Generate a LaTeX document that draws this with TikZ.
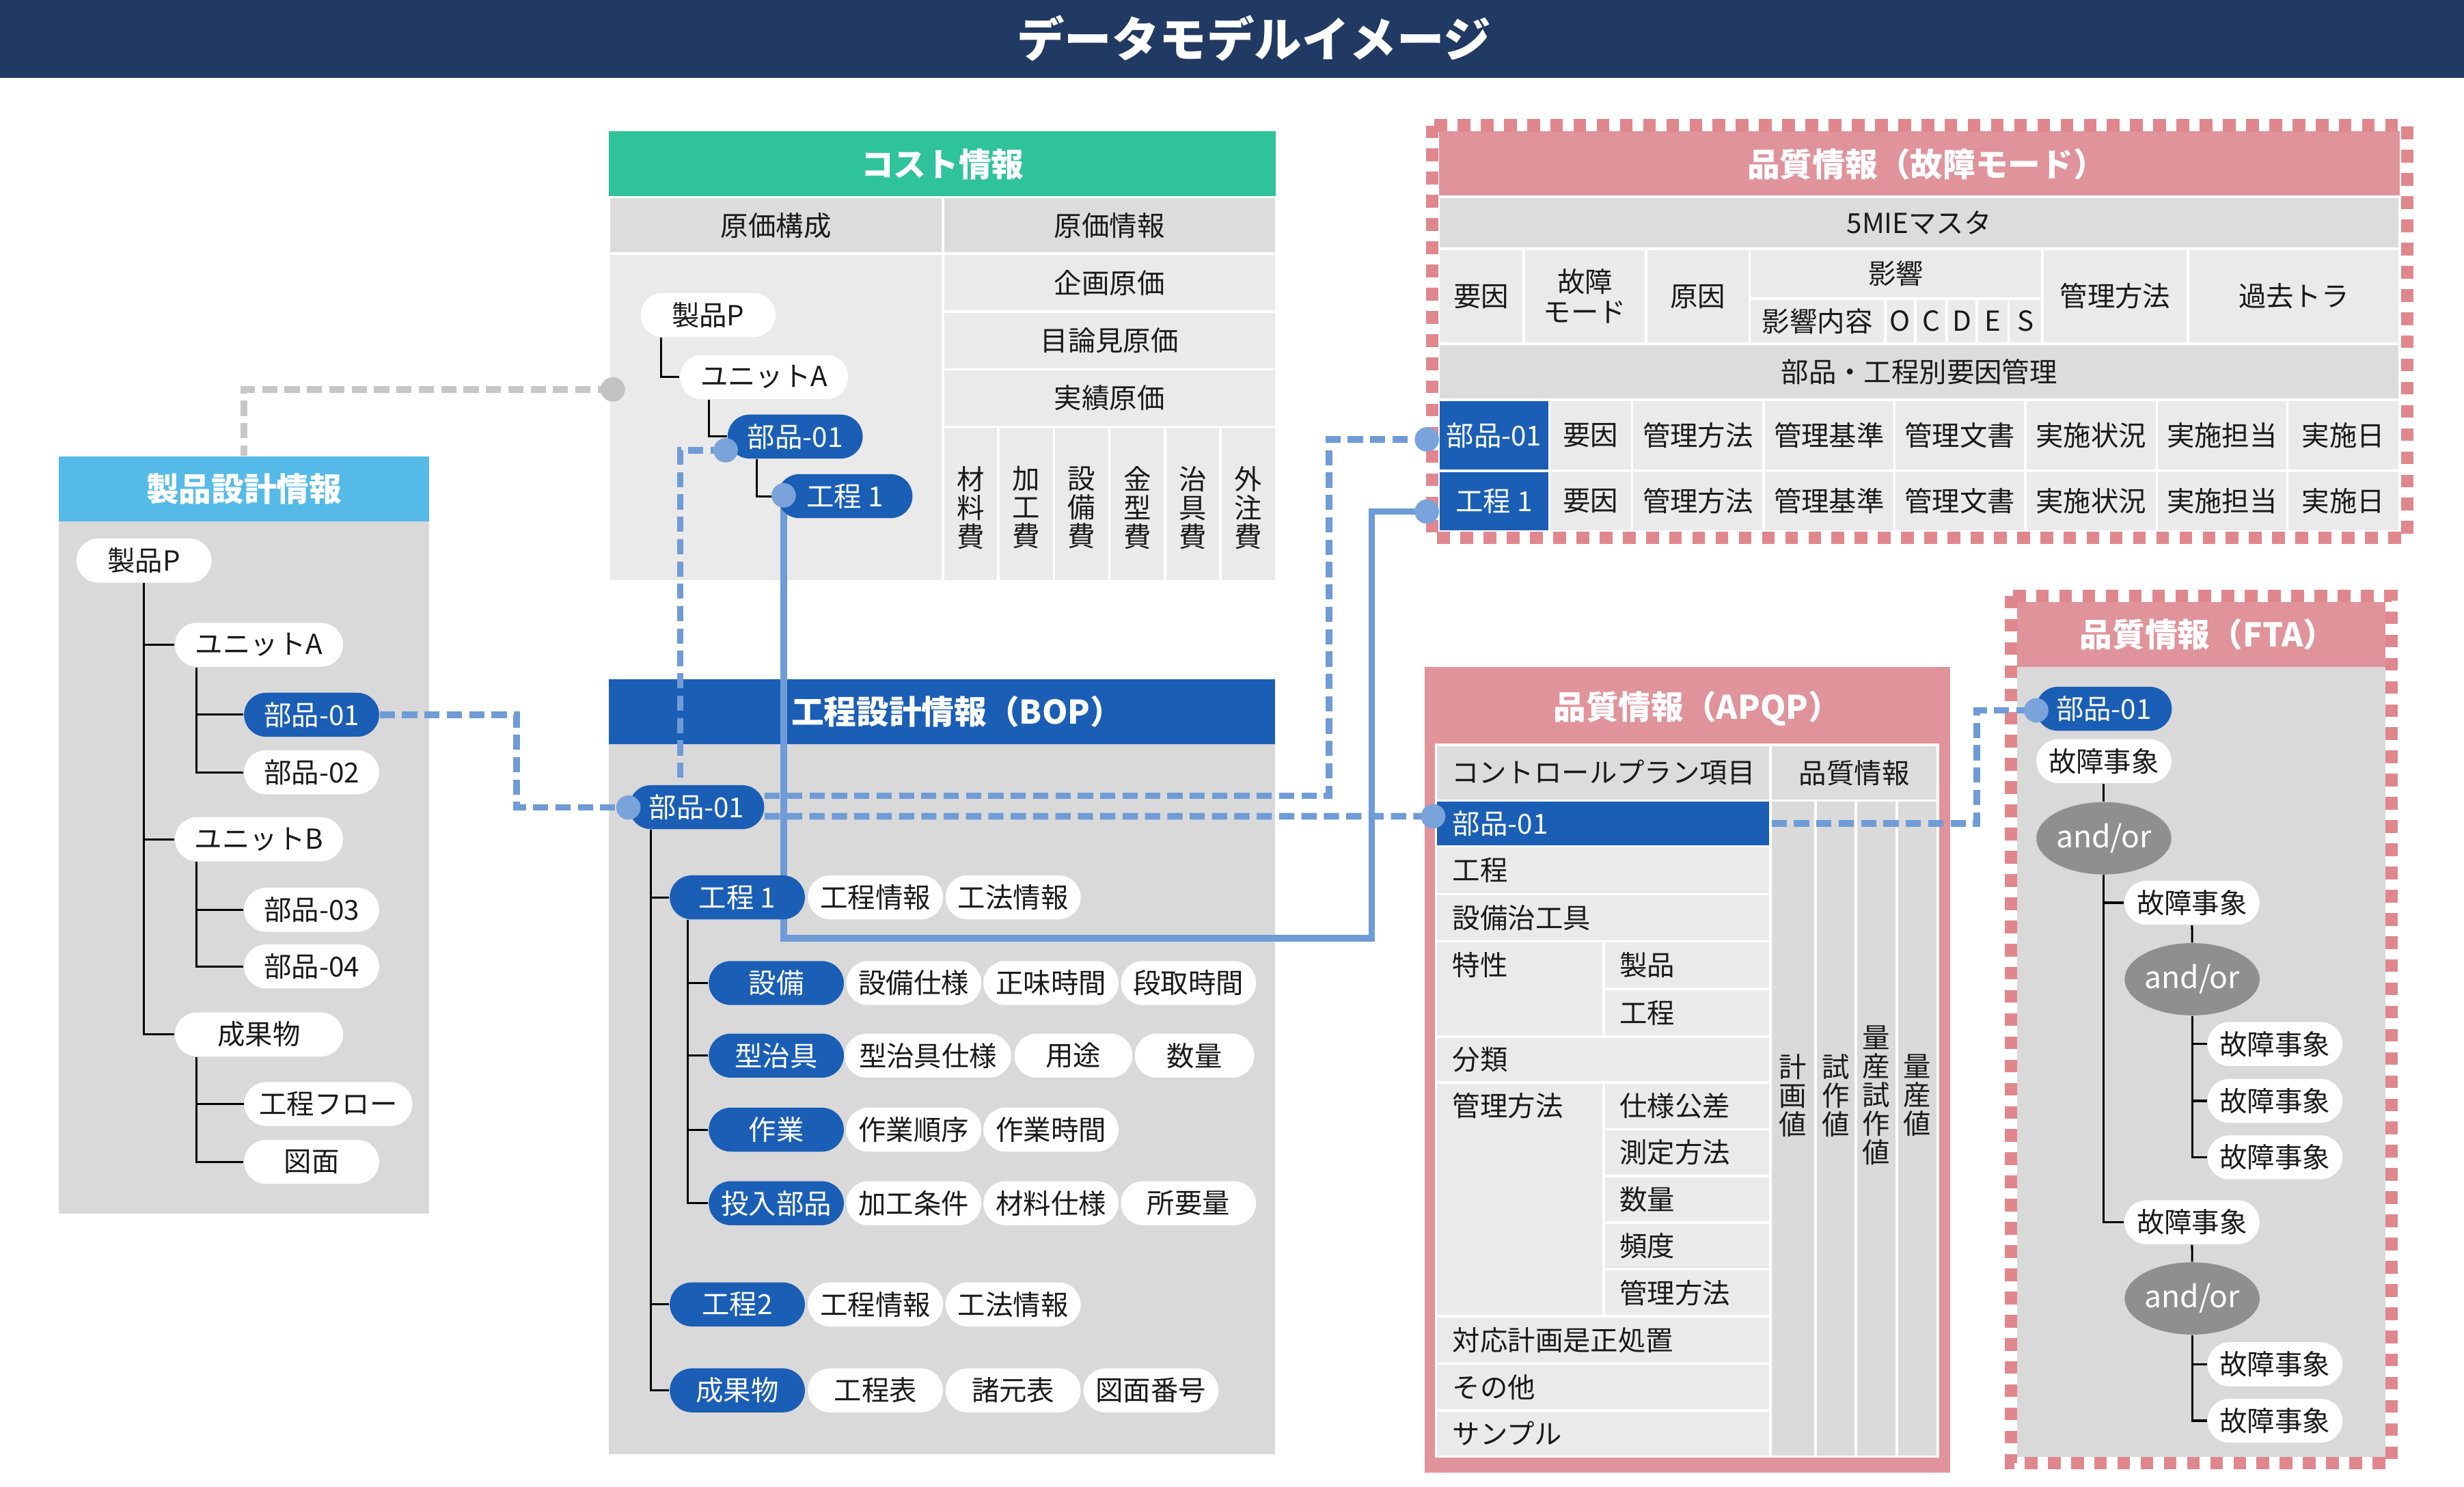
\documentclass[tikz,border=0pt]{standalone}
\usepackage{fontspec}
\setmainfont{Noto Sans CJK JP}
\usetikzlibrary{calc,shapes.geometric}
\definecolor{navy}{HTML}{213A63}
\definecolor{skyB}{HTML}{55BAE8}
\definecolor{greenH}{HTML}{2FC39B}
\definecolor{bopB}{HTML}{1B5EB5}
\definecolor{pinkH}{HTML}{E0939A}
\definecolor{pinkD}{HTML}{E0878E}
\definecolor{bodyG}{HTML}{D9D9D9}
\definecolor{cellG}{HTML}{EAEAEA}
\definecolor{hdrG}{HTML}{DCDCDC}
\definecolor{colG}{HTML}{DADADA}
\definecolor{lnB}{HTML}{6F9BD7}
\definecolor{dotB}{HTML}{7BA3DB}
\definecolor{lnG}{HTML}{C6C6C6}
\definecolor{dotG}{HTML}{C2C2C2}
\definecolor{gateG}{HTML}{8F8F8F}
\definecolor{txt}{HTML}{1A1A1A}
\newcommand{\fs}{\fontsize{10}{11}\selectfont}
\newcommand{\fv}{\fontsize{10}{10.4}\selectfont}
\newcommand{\fh}{\fontsize{11.8}{13}\selectfont\bfseries}
\newcommand{\bx}[7]{\node[#6,minimum width={(#4-#2)*0.02cm},minimum height={(#5-#3)*0.02cm}] (#1) at ({(#2+#4)/2},{(#3+#5)/2}) {#7};}
\pgfdeclarelayer{bg}
\pgfdeclarelayer{mid}
\pgfsetlayers{bg,mid,main}
\tikzset{
  hbox/.style={inner sep=0pt, font=\fh, text=white},
  cellnode/.style={inner sep=0pt, draw=white, line width=0.9pt, font=\fs, align=center, text=txt},
  pill/.style={rounded corners=0.28cm, minimum height=0.56cm, inner sep=0pt, font=\fs, minimum width=1.72cm},
  wp/.style={pill, fill=white, text=txt},
  bp/.style={pill, fill=bopB, text=white},
  wide/.style={minimum width=2.14cm},
  dot/.style={circle, fill=dotB, minimum size=0.31cm, inner sep=0pt},
  gate/.style={ellipse, fill=gateG, text=white, minimum width=1.4cm, minimum height=0.92cm, inner sep=0pt, font=\fontsize{11}{12}\selectfont},
  dsh/.style={draw=lnB, line width=2.4pt, dash pattern=on 5.5pt off 2.6pt},
  gdsh/.style={draw=lnG, line width=2.4pt, dash pattern=on 5.5pt off 2.6pt},
  sol/.style={draw=lnB, line width=2.3pt},
  tree/.style={draw=black, line width=0.75pt},
  pborder/.style={draw=pinkD, line width=4.5pt, dash pattern=on 4.6pt off 3.8pt},
  lab/.style={anchor=west, inner sep=0pt, font=\fs, text=txt},
  vtxt/.style={inner sep=0pt, font=\fv, align=center, text=txt}
}
\begin{document}
\begin{tikzpicture}[x=0.02cm,y=-0.02cm]
\useasboundingbox (0,0) rectangle (1568,946);

\begin{pgfonlayer}{bg}
% title
\bx{ttlB}{0}{0}{1568}{49.5}{inner sep=0pt,fill=navy}{}
\node[inner sep=0pt,text=white,font=\fontsize{17.2}{20}\selectfont\bfseries] (ttl) at (798,24.5) {データモデルイメージ};

% product design
\bx{pdH}{37.3}{290.3}{273.2}{331.6}{hbox,fill=skyB}{製品設計情報}
\bx{pdB}{37.3}{331.6}{273.2}{772.2}{inner sep=0pt,fill=bodyG}{}

% cost
\bx{coH}{387.6}{83.7}{812}{125.5}{hbox,fill=greenH}{コスト情報}
\bx{coS1}{387.6}{125.5}{600}{161.4}{cellnode,fill=hdrG}{原価構成}
\bx{coS2}{600}{125.5}{812}{161.4}{cellnode,fill=hdrG}{原価情報}
\bx{coL}{387.6}{161.4}{600}{370}{cellnode,fill=cellG}{}
\bx{coR1}{600}{161.4}{812}{198.4}{cellnode,fill=cellG}{企画原価}
\bx{coR2}{600}{198.4}{812}{235}{cellnode,fill=cellG}{目論見原価}
\bx{coR3}{600}{235}{812}{271.5}{cellnode,fill=cellG}{実績原価}
\bx{coC1}{600}{271.5}{635.3}{370}{cellnode,fill=cellG}{}
\bx{coC2}{635.3}{271.5}{670.7}{370}{cellnode,fill=cellG}{}
\bx{coC3}{670.7}{271.5}{706}{370}{cellnode,fill=cellG}{}
\bx{coC4}{706}{271.5}{741.3}{370}{cellnode,fill=cellG}{}
\bx{coC5}{741.3}{271.5}{776.7}{370}{cellnode,fill=cellG}{}
\bx{coC6}{776.7}{271.5}{812}{370}{cellnode,fill=cellG}{}
\node[vtxt] (coT1) at (617.7,323) {材\\料\\費};
\node[vtxt] (coT2) at (653,323) {加\\工\\費};
\node[vtxt] (coT3) at (688.4,323) {設\\備\\費};
\node[vtxt] (coT4) at (723.7,323) {金\\型\\費};
\node[vtxt] (coT5) at (759,323) {治\\具\\費};
\node[vtxt] (coT6) at (794.4,323) {外\\注\\費};

% BOP
\bx{boH}{387.5}{432}{811.2}{473.5}{inner sep=0pt,fill=bopB}{}
\node[hbox] (boHt) at (609,452.7) {工程設計情報（BOP）};
\bx{boB}{387.5}{473.5}{811.2}{925.1}{inner sep=0pt,fill=bodyG}{}

% failure mode table
\bx{fmH}{915.6}{83.7}{1527}{125.3}{inner sep=0pt,fill=pinkH}{}
\node[hbox] (fmHt) at (1226,104.5) {品質情報（故障モード）};
\bx{fm5}{915.6}{125.3}{1527}{158.4}{cellnode,fill=hdrG}{5MIEマスタ}
\bx{fmA}{915.6}{158.4}{969.7}{218.7}{cellnode,fill=cellG}{要因}
\bx{fmB}{969.7}{158.4}{1047.4}{218.7}{cellnode,fill=cellG}{故障\\モード}
\bx{fmC}{1047.4}{158.4}{1113.4}{218.7}{cellnode,fill=cellG}{原因}
\bx{fmD}{1113.4}{158.4}{1299.6}{190}{cellnode,fill=cellG}{影響}
\bx{fmD1}{1113.4}{190}{1199.7}{218.7}{cellnode,fill=cellG}{影響内容}
\bx{fmO}{1199.7}{190}{1218.7}{218.7}{cellnode,fill=cellG}{O}
\bx{fmCc}{1218.7}{190}{1238.9}{218.7}{cellnode,fill=cellG}{C}
\bx{fmDd}{1238.9}{190}{1257.9}{218.7}{cellnode,fill=cellG}{D}
\bx{fmE}{1257.9}{190}{1278.2}{218.7}{cellnode,fill=cellG}{E}
\bx{fmS}{1278.2}{190}{1299.6}{218.7}{cellnode,fill=cellG}{S}
\bx{fmM}{1299.6}{158.4}{1392.4}{218.7}{cellnode,fill=cellG}{管理方法}
\bx{fmK}{1392.4}{158.4}{1527}{218.7}{cellnode,fill=cellG}{過去トラ}
\bx{fmP}{915.6}{218.7}{1527}{254.5}{cellnode,fill=hdrG}{部品・工程別要因管理}
% row 1
\bx{fm01}{915.6}{254.5}{985.9}{299.6}{cellnode,fill=bopB,text=white}{部品-01}
\bx{fmr1a}{985.9}{254.5}{1038.6}{299.6}{cellnode,fill=cellG}{要因}
\bx{fmr1b}{1038.6}{254.5}{1122.4}{299.6}{cellnode,fill=cellG}{管理方法}
\bx{fmr1c}{1122.4}{254.5}{1205.6}{299.6}{cellnode,fill=cellG}{管理基準}
\bx{fmr1d}{1205.6}{254.5}{1288.9}{299.6}{cellnode,fill=cellG}{管理文書}
\bx{fmr1e}{1288.9}{254.5}{1372.5}{299.6}{cellnode,fill=cellG}{実施状況}
\bx{fmr1f}{1372.5}{254.5}{1455.5}{299.6}{cellnode,fill=cellG}{実施担当}
\bx{fmr1g}{1455.5}{254.5}{1527}{299.6}{cellnode,fill=cellG}{実施日}
% row 2
\bx{fmK1}{915.6}{299.6}{985.9}{338.2}{cellnode,fill=bopB,text=white}{工程 1}
\bx{fmr2a}{985.9}{299.6}{1038.6}{338.2}{cellnode,fill=cellG}{要因}
\bx{fmr2b}{1038.6}{299.6}{1122.4}{338.2}{cellnode,fill=cellG}{管理方法}
\bx{fmr2c}{1122.4}{299.6}{1205.6}{338.2}{cellnode,fill=cellG}{管理基準}
\bx{fmr2d}{1205.6}{299.6}{1288.9}{338.2}{cellnode,fill=cellG}{管理文書}
\bx{fmr2e}{1288.9}{299.6}{1372.5}{338.2}{cellnode,fill=cellG}{実施状況}
\bx{fmr2f}{1372.5}{299.6}{1455.5}{338.2}{cellnode,fill=cellG}{実施担当}
\bx{fmr2g}{1455.5}{299.6}{1527}{338.2}{cellnode,fill=cellG}{実施日}
\draw[pborder] (911.5,79.8) rectangle (1531.8,342.3);

% APQP
\bx{aqF}{906.5}{424.4}{1241}{936.9}{inner sep=0pt,fill=pinkH}{}
\node[hbox] (aqH) at (1080,451) {品質情報（APQP）};
\bx{aqH1}{913.8}{474}{1126.6}{509.4}{cellnode,fill=hdrG}{コントロールプラン項目}
\bx{aqH2}{1126.6}{474}{1233.3}{509.4}{cellnode,fill=hdrG}{品質情報}
\bx{aq01}{913.8}{509.4}{1126.6}{538.5}{cellnode,fill=bopB}{}
\bx{aqr1}{913.8}{538.5}{1126.6}{569}{cellnode,fill=cellG}{}
\bx{aqr2}{913.8}{569}{1126.6}{599}{cellnode,fill=cellG}{}
\bx{aqr3}{913.8}{599}{1020.5}{659.6}{cellnode,fill=cellG}{}
\bx{aqr3a}{1020.5}{599}{1126.6}{629.3}{cellnode,fill=cellG}{}
\bx{aqr3b}{1020.5}{629.3}{1126.6}{659.6}{cellnode,fill=cellG}{}
\bx{aqr4}{913.8}{659.6}{1126.6}{688.7}{cellnode,fill=cellG}{}
\bx{aqr5}{913.8}{688.7}{1020.5}{837.5}{cellnode,fill=cellG}{}
\bx{aqr5a}{1020.5}{688.7}{1126.6}{718.5}{cellnode,fill=cellG}{}
\bx{aqr5b}{1020.5}{718.5}{1126.6}{748.2}{cellnode,fill=cellG}{}
\bx{aqr5c}{1020.5}{748.2}{1126.6}{778}{cellnode,fill=cellG}{}
\bx{aqr5d}{1020.5}{778}{1126.6}{807.7}{cellnode,fill=cellG}{}
\bx{aqr5e}{1020.5}{807.7}{1126.6}{837.5}{cellnode,fill=cellG}{}
\bx{aqr6}{913.8}{837.5}{1126.6}{867.7}{cellnode,fill=cellG}{}
\bx{aqr7}{913.8}{867.7}{1126.6}{897.4}{cellnode,fill=cellG}{}
\bx{aqr8}{913.8}{897.4}{1126.6}{926.9}{cellnode,fill=cellG}{}
\bx{aqc1}{1126.6}{509.4}{1155.4}{926.9}{cellnode,fill=colG}{}
\bx{aqc2}{1155.4}{509.4}{1181}{926.9}{cellnode,fill=colG}{}
\bx{aqc3}{1181}{509.4}{1207}{926.9}{cellnode,fill=colG}{}
\bx{aqc4}{1207}{509.4}{1233.3}{926.9}{cellnode,fill=colG}{}
\node[lab,text=white] (aqt0) at (924,524) {部品-01};
\node[lab] (aqt1) at (924,553.7) {工程};
\node[lab] (aqt2) at (924,584) {設備治工具};
\node[lab] (aqt3) at (924,614.2) {特性};
\node[lab] (aqt3a) at (1030.3,614.2) {製品};
\node[lab] (aqt3b) at (1030.3,644.5) {工程};
\node[lab] (aqt4) at (924,674.2) {分類};
\node[lab] (aqt5) at (924,703.6) {管理方法};
\node[lab] (aqt5a) at (1030.3,703.6) {仕様公差};
\node[lab] (aqt5b) at (1030.3,733.4) {測定方法};
\node[lab] (aqt5c) at (1030.3,763.1) {数量};
\node[lab] (aqt5d) at (1030.3,792.9) {頻度};
\node[lab] (aqt5e) at (1030.3,822.6) {管理方法};
\node[lab] (aqt6) at (924,852.6) {対応計画是正処置};
\node[lab] (aqt7) at (924,882.6) {その他};
\node[lab] (aqt8) at (924,912.2) {サンプル};
\node[vtxt] (aqv1) at (1141,697) {計\\画\\値};
\node[vtxt] (aqv2) at (1168.2,697) {試\\作\\値};
\node[vtxt] (aqv3) at (1194,697) {量\\産\\試\\作\\値};
\node[vtxt] (aqv4) at (1220.2,697) {量\\産\\値};

% FTA
\bx{ftH}{1283.7}{383}{1518}{424.5}{inner sep=0pt,fill=pinkH}{}
\node[hbox] (ftHt) at (1405,403.5) {品質情報（FTA）};
\bx{ftB}{1283.7}{424.5}{1518}{927}{inner sep=0pt,fill=bodyG}{}
\draw[pborder] (1279.6,379.1) rectangle (1521.9,931.1);
\end{pgfonlayer}

% ---------- pills ----------
% product design tree
\node[wp] (pdP) at (91.6,356.7) {製品P};
\node[wp,wide] (pdUA) at (164.8,410.3) {ユニットA};
\node[bp] (pd01) at (198.3,454.8) {部品-01};
\node[wp] (pd02) at (198.3,491.4) {部品-02};
\node[wp,wide] (pdUB) at (164.8,534) {ユニットB};
\node[wp] (pd03) at (198.3,578.9) {部品-03};
\node[wp] (pd04) at (198.3,614.9) {部品-04};
\node[wp,wide] (pdOut) at (164.8,658.2) {成果物};
\node[wp,wide] (pdFlow) at (208.9,702.5) {工程フロー};
\node[wp] (pdDraw) at (198.3,739.3) {図面};

% cost tree
\node[wp] (cP) at (450.6,200.5) {製品P};
\node[wp,wide] (cUA) at (486.2,239.9) {ユニットA};
\node[bp] (c01) at (506,277.8) {部品-01};
\node[bp] (cK1) at (537.7,315.7) {工程 1};

% BOP tree
\node[bp] (b01) at (443.3,513.6) {部品-01};
\node[bp] (bK1) at (469.2,571) {工程 1};
\node[wp] (bK1a) at (557.1,571) {工程情報};
\node[wp] (bK1b) at (644.7,571) {工法情報};
\node[bp] (bEq) at (494,625.5) {設備};
\node[wp] (bEqa) at (581.5,625.5) {設備仕様};
\node[wp] (bEqb) at (668.8,625.5) {正味時間};
\node[wp] (bEqc) at (756.3,625.5) {段取時間};
\node[bp] (bJig) at (494,671.7) {型治具};
\node[wp,minimum width=2.12cm] (bJiga) at (590.5,671.7) {型治具仕様};
\node[wp,minimum width=1.5cm] (bJigb) at (683.1,671.7) {用途};
\node[wp,minimum width=1.52cm] (bJigc) at (760.1,671.7) {数量};
\node[bp] (bWk) at (494,718.8) {作業};
\node[wp] (bWka) at (581.5,718.8) {作業順序};
\node[wp] (bWkb) at (668.8,718.8) {作業時間};
\node[bp] (bIn) at (494,765.6) {投入部品};
\node[wp] (bIna) at (581.5,765.6) {加工条件};
\node[wp] (bInb) at (668.8,765.6) {材料仕様};
\node[wp] (bInc) at (756.3,765.6) {所要量};
\node[bp] (bK2) at (469.2,830) {工程2};
\node[wp] (bK2a) at (557.1,830) {工程情報};
\node[wp] (bK2b) at (644.7,830) {工法情報};
\node[bp] (bOut) at (469.2,884.7) {成果物};
\node[wp] (bOuta) at (557.1,884.7) {工程表};
\node[wp] (bOutb) at (644.7,884.7) {諸元表};
\node[wp] (bOutc) at (732.4,884.7) {図面番号};

% FTA tree
\node[bp,minimum width=1.73cm] (f01) at (1338.8,451) {部品-01};
\node[wp] (fE0) at (1338.8,484.3) {故障事象};
\node[gate] (fAO1) at (1338.8,533.4) {and/or};
\node[wp] (fE1) at (1394.9,574.4) {故障事象};
\node[gate] (fAO2) at (1395,623.1) {and/or};
\node[wp] (fL1) at (1447.7,664.3) {故障事象};
\node[wp] (fL2) at (1447.7,700.5) {故障事象};
\node[wp] (fL3) at (1447.7,736.4) {故障事象};
\node[wp] (fE2) at (1394.9,777.7) {故障事象};
\node[gate] (fAO3) at (1395,826.2) {and/or};
\node[wp] (fL4) at (1447.7,868.1) {故障事象};
\node[wp] (fL5) at (1447.7,904) {故障事象};

% connector dots
\node[dot,fill=dotG] (cgc) at (390,247.8) {};
\node[dot] (c01c) at (461.8,286.5) {};
\node[dot] (cK1c) at (498.7,315.2) {};
\node[dot] (b01c) at (399.9,513.8) {};
\node[dot] (fm01c) at (908,279.6) {};
\node[dot] (fmK1c) at (908,325.5) {};
\node[dot] (aq01c) at (912,519.4) {};
\node[dot] (f01c) at (1295.8,452) {};

\coordinate (j1) at (328.6,0);
\coordinate (j2) at (432.9,0);
\coordinate (j3) at (845.7,0);
\coordinate (j5) at (1258,0);
\coordinate (s1) at (873,597);

\begin{pgfonlayer}{mid}
% trees
\draw[tree] (pdP.south) |- (pdUA.west);
\draw[tree] (pdP.south) |- (pdUB.west);
\draw[tree] (pdP.south) |- (pdOut.west);
\draw[tree] ($(pdUA.south west)+(13.9,0)$) |- (pd01.west);
\draw[tree] ($(pdUA.south west)+(13.9,0)$) |- (pd02.west);
\draw[tree] ($(pdUB.south west)+(13.9,0)$) |- (pd03.west);
\draw[tree] ($(pdUB.south west)+(13.9,0)$) |- (pd04.west);
\draw[tree] ($(pdOut.south west)+(13.9,0)$) |- (pdFlow.west);
\draw[tree] ($(pdOut.south west)+(13.9,0)$) |- (pdDraw.west);
\draw[tree] ($(cP.south west)+(13.3,0)$) |- (cUA.west);
\draw[tree] ($(cUA.south west)+(18.8,0)$) |- (c01.west);
\draw[tree] ($(c01.south west)+(19,0)$) |- (cK1.west);
\draw[tree] ($(b01.south west)+(14.3,0)$) |- (bK1.west);
\draw[tree] ($(b01.south west)+(14.3,0)$) |- (bK2.west);
\draw[tree] ($(b01.south west)+(14.3,0)$) |- (bOut.west);
\draw[tree] ($(bK1.south west)+(11.9,0)$) |- (bEq.west);
\draw[tree] ($(bK1.south west)+(11.9,0)$) |- (bJig.west);
\draw[tree] ($(bK1.south west)+(11.9,0)$) |- (bWk.west);
\draw[tree] ($(bK1.south west)+(11.9,0)$) |- (bIn.west);
\draw[tree] (fE0.south) -- (fAO1.north);
\draw[tree] (fAO1.south) |- (fE1.west);
\draw[tree] (fAO1.south) |- (fE2.west);
\draw[tree] (fE1.south) -- (fAO2.north);
\draw[tree] (fAO2.south) |- (fL1.west);
\draw[tree] (fAO2.south) |- (fL2.west);
\draw[tree] (fAO2.south) |- (fL3.west);
\draw[tree] (fE2.south) -- (fAO3.north);
\draw[tree] (fAO3.south) |- (fL4.west);
\draw[tree] (fAO3.south) |- (fL5.west);
% connectors
\draw[gdsh] (cgc.center) -| (pdH.north);
\draw[dsh] (pd01.east) -| (j1 |- b01c.center) -- (b01c.center);
\draw[dsh] (c01c.center) -| (j2 |- b01.north);
\draw[dsh] ($(b01.east)+(0,-7.3)$) -| (j3 |- fm01c.center) -- (fm01c.center);
\draw[dsh] ($(b01.east)+(0,5.8)$) -- (aq01c.center);
\draw[dsh] (aq01.east) -| (j5 |- f01c.center) -- (f01c.center);
\draw[sol] (cK1c.center) |- (s1) |- (fmK1c.center);
\end{pgfonlayer}
\end{tikzpicture}
\end{document}
